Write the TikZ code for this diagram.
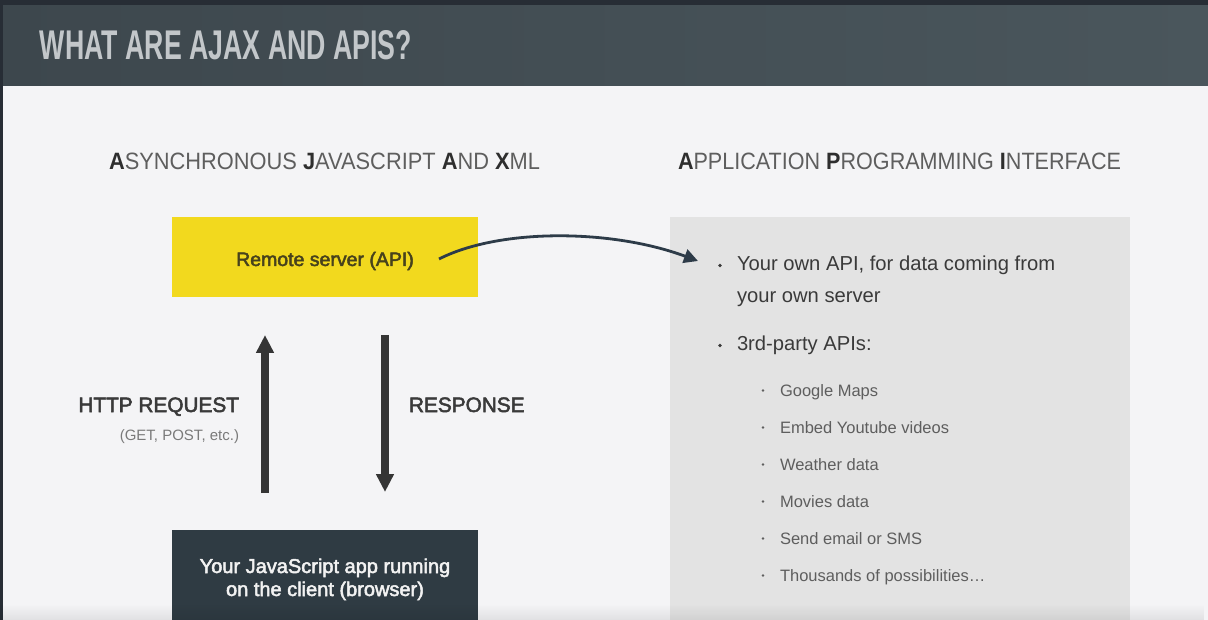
\documentclass[tikz,border=0pt]{standalone}
\usepackage{fontspec}
\usepackage{graphicx}
\setmainfont{Liberation Sans}
\newfontfamily\medfont[FakeBold=2.5]{Liberation Sans}
\usetikzlibrary{arrows.meta,fadings}

\definecolor{topbar}{HTML}{272D35}
\definecolor{headL}{HTML}{3D474D}
\definecolor{headR}{HTML}{4A565C}
\definecolor{titleink}{HTML}{C3C7CA}
\definecolor{page}{HTML}{F4F4F6}
\definecolor{serverfill}{HTML}{F2D91E}
\definecolor{serverink}{HTML}{47421C}
\definecolor{clientfill}{HTML}{2F3B43}
\definecolor{clientink}{HTML}{F2F2F2}
\definecolor{panel}{HTML}{E3E3E3}
\definecolor{ink}{HTML}{3A3A3A}
\definecolor{subink}{HTML}{5E5E5E}
\definecolor{softink}{HTML}{7A7A7A}
\definecolor{arrowink}{HTML}{353535}
\definecolor{curveink}{HTML}{2D3B48}
\definecolor{headbold}{HTML}{2E2E2E}
\definecolor{headlight}{HTML}{5E5E5E}

\tikzset{
  every node/.style={inner sep=0pt, outer sep=0pt},
  block/.style={minimum width=306pt, minimum height=80pt},
  boxtext/.style={anchor=base, font=\medfont\fontsize{19.5}{24}\selectfont},
  label/.style={anchor=base east, text=ink, font=\medfont\fontsize{20.8}{24}\selectfont},
  item/.style={anchor=base west, text=ink, font=\fontsize{20.2}{24}\selectfont},
  subitem/.style={anchor=base west, text=subink, font=\fontsize{16.5}{20}\selectfont},
  bigdot/.style={circle, fill=ink, minimum size=3.6pt},
  smalldot/.style={circle, fill=subink, minimum size=2.6pt},
  bigarrow/.style={draw=arrowink, line width=7.5pt, -{Triangle[width=17pt,length=18pt]}},
  curvearrow/.style={draw=curveink, line width=2.8pt, -{Triangle[width=14pt,length=14pt]}},
}

\newcommand{\headword}[2]{{\color{headbold}\bfseries #1}{\color{headlight}#2}}

\begin{document}
\begin{tikzpicture}[x=1pt,y=-1pt]
\useasboundingbox (0,0) rectangle (1208,620);

% page, header band and window edge
\fill[page] (0,0) rectangle (1208,620);
\shade[left color=headL, right color=headR] (0,5) rectangle (1208,86);
\fill[topbar] (0,0) rectangle (1208,5);
\fill[topbar] (0,0) rectangle (3,620);

\node[anchor=south west, text=titleink] (title) at (40,59.5)
  {\resizebox{372pt}{29pt}{\bfseries WHAT ARE AJAX AND APIS?}};

% column headings
\node[anchor=south west] (ajaxHead) at (109,169.5)
  {\resizebox{431pt}{16.5pt}{\headword{A}{SYNCHRONOUS} \headword{J}{AVASCRIPT} \headword{A}{ND} \headword{X}{ML}}};
\node[anchor=south west] (apiHead) at (678,170)
  {\resizebox{443pt}{16.5pt}{\headword{A}{PPLICATION} \headword{P}{ROGRAMMING} \headword{I}{NTERFACE}}};

% server and client blocks
\node[block, fill=serverfill] (server) at (325,257) {};
\node[boxtext, text=serverink] (serverText) at (325,266) {Remote server (API)};

\node[block, fill=clientfill, minimum height=90pt] (client) at (325,575) {};
\node[boxtext, text=clientink, font=\medfont\fontsize{20}{24}\selectfont] (clientText1) at (325,573) {Your JavaScript app running};
\node[boxtext, text=clientink, font=\medfont\fontsize{20}{24}\selectfont] (clientText2) at (325,596) {on the client (browser)};

% request / response arrows
\coordinate (reqFrom) at (265,493);
\coordinate (reqTo) at (265,335);
\coordinate (resFrom) at (385,335);
\coordinate (resTo) at (385,492);
\draw[bigarrow] (reqFrom) -- (reqTo);
\draw[bigarrow] (resFrom) -- (resTo);

\node[label] (reqLabel) at (239,412) {HTTP REQUEST};
\node[anchor=base east, text=softink, font=\fontsize{15}{18}\selectfont] (reqNote) at (239,440) {(GET, POST, etc.)};
\node[label, anchor=base west] (resLabel) at (409,412) {RESPONSE};

% API panel
\fill[panel] (670,217) rectangle (1130,620);

\node[bigdot] (dotA) at (720,265.5) {};
\node[item] (apiOwn1) at (737,271) {Your own API, for data coming from};
\node[item] (apiOwn2) at (737,303) {your own server};
\node[bigdot] (dotB) at (720,345.5) {};
\node[item] (apiThird) at (737,351) {3rd-party APIs:};

\foreach \txt [count=\i] in {Google Maps, Embed Youtube videos, Weather data, Movies data, Send email or SMS, {Thousands of possibilities\ldots}}{
  \node[smalldot] (subdot\i) at (763,{353.5+37*\i}) {};
  \node[subitem] (sub\i) at (780,{359+37*\i}) {\txt};
}

% curved connector from the server to the API list
\coordinate (srvOut) at (439,259);
\coordinate (apiIn) at (698,261);
\draw[curvearrow] (srvOut) .. controls (500,228) and (612,229) .. (apiIn);

% soft shade along the bottom edge
\fill[black, opacity=0.08, path fading=north] (0,604) rectangle (1208,620);
\end{tikzpicture}
\end{document}
